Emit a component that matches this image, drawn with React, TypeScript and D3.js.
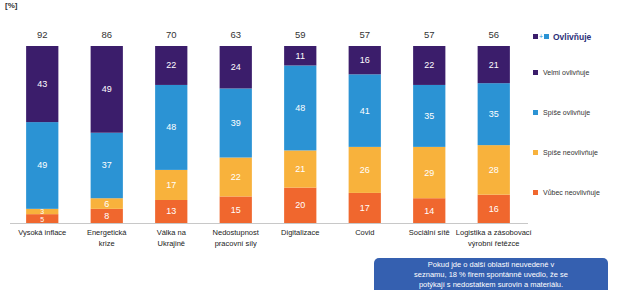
import React, { useEffect, useRef } from "react";
import * as d3 from "d3";

// categories (each label split into lines)
const categories = [
  "Vysoká inflace",
  "Energetická krize",
  "Válka na Ukrajině",
  "Nedostupnost pracovní síly",
  "Digitalizace",
  "Covid",
  "Sociální sítě",
  "Logistika a zásobovací řetězce",
];
const categoryLines = [
  ["Vysoká inflace"],
  ["Energetická", "krize"],
  ["Válka na", "Ukrajině"],
  ["Nedostupnost", "pracovní síly"],
  ["Digitalizace"],
  ["Covid"],
  ["Sociální sítě"],
  ["Logistika a zásobovací", "výrobní řetězce"],
];

// series values (%)
const velmi = [43, 49, 22, 24, 11, 16, 22, 21];
const spise = [49, 37, 48, 39, 48, 41, 35, 35];
const spiseNe = [3, 6, 17, 22, 21, 26, 29, 28];
const vubec = [5, 8, 13, 15, 20, 17, 14, 16];
const totals = [92, 86, 70, 63, 59, 57, 57, 56];

const keys = ["vubec", "spiseNe", "spise", "velmi"];
const legendItems = [
  { key: "velmi", label: "Velmi ovlivňuje" },
  { key: "spise", label: "Spíše ovlivňuje" },
  { key: "spiseNe", label: "Spíše neovlivňuje" },
  { key: "vubec", label: "Vůbec neovlivňuje" },
];
const noteLines = [
  "Pokud jde o další oblasti neuvedené v",
  "seznamu, 18 % firem spontánně uvedlo, že se",
  "potýkají s nedostatkem surovin a materiálu.",
];

const colors = {
  velmi: "#3b1d6b",
  spise: "#2b93d4",
  spiseNe: "#f8b23c",
  vubec: "#f0672e",
};

const App = () => {
  const svgRef = useRef<SVGSVGElement>(null);

  useEffect(() => {
    const W = 623;
    const H = 290;
    const font = "'Liberation Sans', Arial, sans-serif";

    const svg = d3.select(svgRef.current);
    svg.selectAll("*").remove();
    svg.attr("width", W).attr("height", H).style("font-family", font);

    const rows = categories.map((c, i) => ({
      cat: c,
      velmi: velmi[i],
      spise: spise[i],
      spiseNe: spiseNe[i],
      vubec: vubec[i],
    }));

    const x = d3
      .scaleBand()
      .domain(categories)
      .range([10, 526])
      .paddingInner(0.5)
      .paddingOuter(0.25);

    const y = d3.scaleLinear().domain([0, 100]).range([223, 46]);

    const stacked = d3.stack().keys(keys)(rows as any);

    // small unit mark at the top
    svg
      .append("text")
      .attr("x", 5)
      .attr("y", 8)
      .style("font-size", "8px")
      .style("font-weight", "bold")
      .attr("fill", "#333")
      .text("[%]");

    // bars
    const layers = svg
      .append("g")
      .selectAll("g")
      .data(stacked)
      .enter()
      .append("g")
      .attr("fill", (d) => colors[d.key]);

    layers
      .selectAll("rect")
      .data((d) => d)
      .enter()
      .append("rect")
      .attr("x", (d: any) => x(d.data.cat)!)
      .attr("width", x.bandwidth())
      .attr("y", (d) => y(d[1]))
      .attr("height", (d) => y(d[0]) - y(d[1]));

    // segment labels
    stacked.forEach((layer) => {
      svg
        .append("g")
        .selectAll("text")
        .data(layer)
        .enter()
        .append("text")
        .attr("x", (d: any) => x(d.data.cat)! + x.bandwidth() / 2)
        .attr("y", (d) => (y(d[0]) + y(d[1])) / 2 + 3)
        .attr("text-anchor", "middle")
        .attr("fill", "#fff")
        .style("font-size", (d) => (d[1] - d[0] < 6 ? "7px" : "9px"))
        .text((d) => d[1] - d[0]);
    });

    // baseline
    svg
      .append("line")
      .attr("x1", 10)
      .attr("x2", 528)
      .attr("y1", y(0) + 0.5)
      .attr("y2", y(0) + 0.5)
      .attr("stroke", "#c8c8c8")
      .attr("stroke-width", 1);

    // totals above bars
    svg
      .append("g")
      .selectAll("text")
      .data(totals)
      .enter()
      .append("text")
      .attr("x", (d, i) => x(categories[i])! + x.bandwidth() / 2)
      .attr("y", 38)
      .attr("text-anchor", "middle")
      .attr("fill", "#333")
      .style("font-size", "9.5px")
      .text((d) => d);

    // category labels
    categoryLines.forEach((lines, i) => {
      const t = svg
        .append("text")
        .attr("text-anchor", "middle")
        .attr("fill", "#222")
        .style("font-size", "7.5px");
      lines.forEach((ln, j) => {
        t.append("tspan")
          .attr("x", x(categories[i])! + x.bandwidth() / 2)
          .attr("y", 235 + j * 11)
          .text(ln);
      });
    });

    // legend
    const lg = svg.append("g");
    lg.append("rect").attr("x", 533).attr("y", 34).attr("width", 5).attr("height", 5).attr("fill", colors.velmi);
    lg.append("text").attr("x", 539).attr("y", 39).attr("fill", "#2b93d4").style("font-size", "7px").text("+");
    lg.append("rect").attr("x", 544).attr("y", 34).attr("width", 5).attr("height", 5).attr("fill", colors.spise);
    lg.append("text")
      .attr("x", 553)
      .attr("y", 40)
      .attr("fill", "#2c2f78")
      .style("font-size", "8.5px")
      .style("font-weight", "bold")
      .text("Ovlivňuje");

    const legendY = d3.scalePoint().domain(legendItems.map((d) => d.key)).range([73, 193]);
    legendItems.forEach((it) => {
      lg.append("rect")
        .attr("x", 533)
        .attr("y", legendY(it.key)! - 3)
        .attr("width", 5)
        .attr("height", 5)
        .attr("fill", colors[it.key]);
      lg.append("text")
        .attr("x", 543)
        .attr("y", legendY(it.key)! + 2)
        .attr("fill", "#333")
        .style("font-size", "7px")
        .text(it.label);
    });

    // note box
    svg
      .append("rect")
      .attr("x", 374)
      .attr("y", 258)
      .attr("width", 234)
      .attr("height", 45)
      .attr("rx", 5)
      .attr("fill", "#3560b0");
    noteLines.forEach((ln, i) => {
      svg
        .append("text")
        .attr("x", 491)
        .attr("y", 267 + i * 10)
        .attr("text-anchor", "middle")
        .attr("fill", "#fff")
        .style("font-size", "7.5px")
        .text(ln);
    });
  }, []);

  return <svg ref={svgRef} style={{ position: "absolute", left: 0, top: 0 }}></svg>;
};

export default App;
